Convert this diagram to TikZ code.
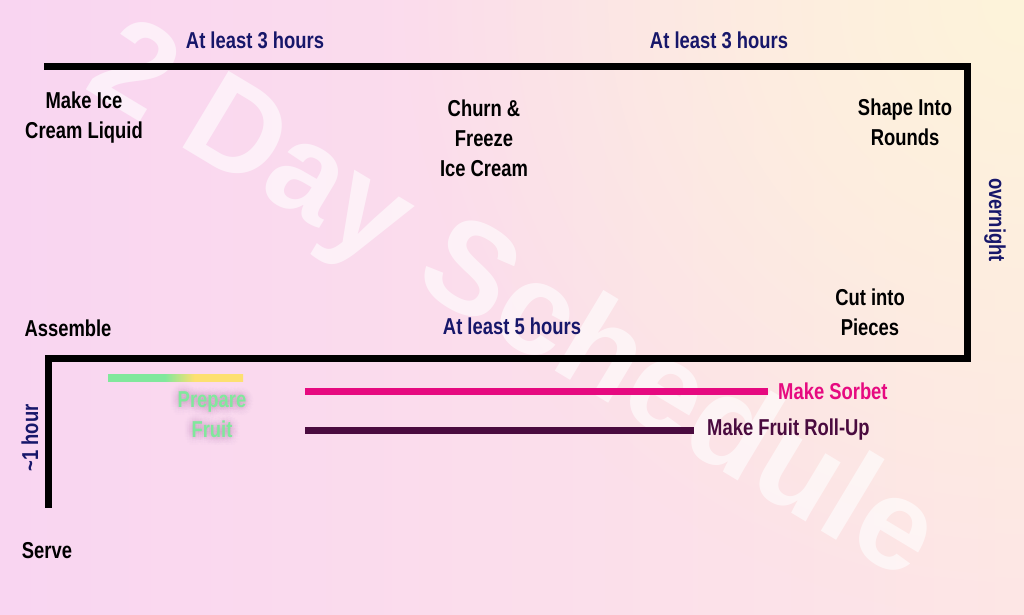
\documentclass[tikz,border=0pt]{standalone}
\usepackage{fontspec}
\setmainfont{Liberation Sans}[FakeStretch=0.8]
\newfontfamily\markfont{Liberation Sans}
\usepackage{tikz}
\usetikzlibrary{positioning,fadings}

\definecolor{bgpink}{HTML}{F9D5F1}
\definecolor{bgpeach}{HTML}{FDE6E6}
\definecolor{bgcream}{HTML}{FEF4DA}
\definecolor{navy}{HTML}{17176A}
\definecolor{sorbet}{HTML}{E60A80}
\definecolor{rollup}{HTML}{4A0B3F}
\definecolor{fruitgreen}{HTML}{80E89C}
\definecolor{fruityellow}{HTML}{FDE070}
\definecolor{glowish}{HTML}{A0709A}

\pgfdeclarehorizontalshading{fruitbar}{100bp}{color(0bp)=(fruitgreen); color(46bp)=(fruitgreen); color(57bp)=(fruityellow); color(100bp)=(fruityellow)}
\tikzfading[name=fade corner, inner color=transparent!0, outer color=transparent!100]

\begin{document}
\begin{tikzpicture}[
		x=1pt, y=-1pt,
		every node/.style={font=\bfseries\fontsize{23}{30}\selectfont, align=center, inner sep=0pt},
		task/.style={text=black},
		span/.style={text=navy},
		fruit/.style={text=fruitgreen},
		glow/.style={text=glowish, text opacity=0.012},
		watermark/.style={font=\markfont\bfseries\fontsize{130}{130}\selectfont, text=white, text opacity=0.6},
		track/.style={draw=black, line width=7pt},
		bar/.style={line width=7pt}
	]
	\useasboundingbox (0,0) rectangle (1024,614);
	% background
	\fill[left color=bgpink, right color=bgpeach] (0,0) rectangle (1024,614);
	\fill[bgcream, path fading=fade corner] (1024,0) circle (620);

	\node[watermark, rotate=-31] (wm) at (512,306) {2 Day Schedule};

	% the track
	\coordinate (start) at (44,66);
	\coordinate (topright) at (967,66);
	\coordinate (bottomright) at (967,358);
	\coordinate (bottomleft) at (48,358);
	\coordinate (finish) at (48,508);
	\draw[track] (start) -- (topright) -- (bottomright) -- (bottomleft) -- (finish);

	\node[span] (first) at (255,40) {At least 3 hours};
	\node[span] (second) at (719,40) {At least 3 hours};
	\node[span, rotate=-90] (overnight) at (995,220) {overnight};
	\node[span] (third) at (512,326) {At least 5 hours};
	\node[span, rotate=90] (hour) at (30,438) {\textasciitilde1 hour};

	\node[task] (liquid) at (84,118) {Make Ice\\Cream Liquid};
	\node[task] (churn) at (484,138) {Churn \&\\Freeze\\Ice Cream};
	\node[task] (shape) at (905,122) {Shape Into\\Rounds};
	\node[task] (cut) at (870,312) {Cut into\\Pieces};
	\node[task] (assemble) at (68,328) {Assemble};
	\node[task] (serve) at (47,551) {Serve};

	% side tasks
	\coordinate (fruitstart) at (108,374);
	\coordinate (fruitend) at (243,381);
	\shade[shading=fruitbar] (fruitstart) rectangle (fruitend);
	\foreach \r in {2,4,6,8}
	\foreach \a in {0,22.5,...,337.5}
	\node[glow, shift={(\a:\r pt)}] (glow\r-\a) at (212,415) {Prepare\\Fruit};
	\node[fruit] (prepare) at (212,415) {Prepare\\Fruit};

	\coordinate (sorbetstart) at (305,391);
	\coordinate (sorbetend) at (768,391);
	\draw[bar, sorbet] (sorbetstart) -- (sorbetend);
	\node[text=sorbet, right=10pt of sorbetend] (sorbet) {Make Sorbet};

	\coordinate (rollupstart) at (305,430);
	\coordinate (rollupend) at (694,430);
	\draw[bar, rollup] (rollupstart) -- (rollupend);
	\node[text=rollup, right=13pt of rollupend] (rollup) {Make Fruit Roll-Up};
\end{tikzpicture}
\end{document}
